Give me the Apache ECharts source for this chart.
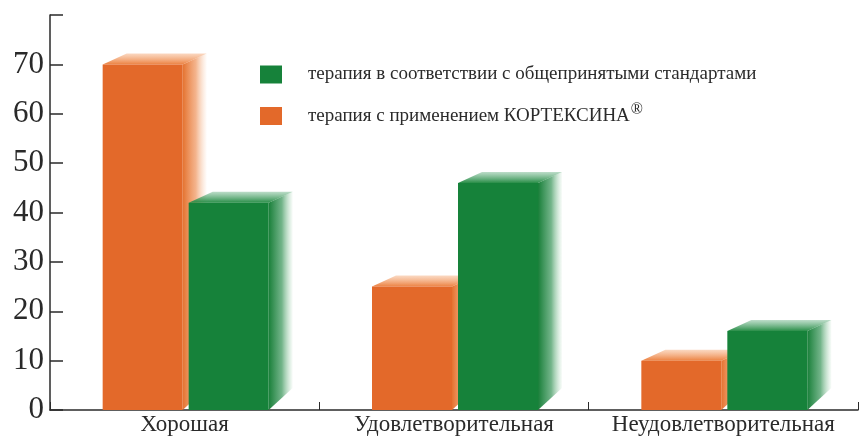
<!DOCTYPE html>
<html>
<head>
<meta charset="utf-8">
<script src="https://cdn.jsdelivr.net/npm/echarts@6/dist/echarts.min.js"></script>
<style>
  html, body { margin: 0; padding: 0; background: #fff; }
  #chart { width: 859px; height: 437px; }
</style>
</head>
<body>
<div id="chart"></div>
<script>
// data
const categories = ['Хорошая', 'Удовлетворительная', 'Неудовлетворительная']
const kortexinValues = [70, 25, 10]
const standardValues = [42, 46, 16]
const kortexinName = 'терапия с применением КОРТЕКСИНА'
const standardName = 'терапия в соответствии с общепринятыми стандартами'

const serif = '"Liberation Serif", "DejaVu Serif", serif'
const BAR_W = 80
const DX = 24
const DY = 11

function makeRender(offset, front, top, side) {
  return function (params, api) {
    const p = api.coord([api.value(0), api.value(1)])
    const base = api.coord([api.value(0), 0])
    const x0 = p[0] + offset
    const x1 = x0 + BAR_W
    const yT = p[1]
    const yB = base[1]
    return {
      type: 'group',
      children: [
        {
          type: 'polygon',
          shape: { points: [[x1, yT], [x1 + DX, yT - DY], [x1 + DX, yB - DY * 2], [x1, yB]] },
          style: {
            fill: new echarts.graphic.LinearGradient(0, 0, 1, 0, [
              { offset: 0, color: side[0] },
              { offset: 0.55, color: side[1] },
              { offset: 1, color: side[2] }
            ])
          }
        },
        {
          type: 'polygon',
          shape: { points: [[x0, yT], [x0 + DX, yT - DY], [x1 + DX, yT - DY], [x1, yT]] },
          style: {
            fill: new echarts.graphic.LinearGradient(0, 0, 0, 1, [
              { offset: 0, color: top[0] },
              { offset: 1, color: top[1] }
            ])
          }
        },
        {
          type: 'rect',
          shape: { x: x0, y: yT, width: BAR_W, height: yB - yT },
          style: { fill: front }
        }
      ]
    }
  }
}

const chart = echarts.init(document.getElementById('chart'))

chart.setOption({
  backgroundColor: '#ffffff',
  animation: false,
  grid: { left: 50, right: 1, top: 15, bottom: 27, containLabel: false },
  legend: {
    orient: 'vertical',
    left: 255,
    top: 60,
    itemWidth: 22,
    itemHeight: 18,
    itemGap: 18,
    icon: 'rect',
    data: [standardName, kortexinName],
    formatter: function (name) {
      if (name === kortexinName) return '{t|' + name + '}{s|®}'
      return '{t|' + name + '}'
    },
    textStyle: {
      rich: {
        t: { fontFamily: serif, fontSize: 19, color: '#2b2b2b', padding: [0, 0, 0, 21] },
        s: { fontFamily: serif, fontSize: 16, color: '#2b2b2b', padding: [0, 0, 12, 1] }
      }
    }
  },
  xAxis: {
    type: 'category',
    data: categories,
    axisLine: { lineStyle: { color: '#2a2a2a', width: 1.5 } },
    axisTick: { show: true, inside: true, length: 8, interval: 0, lineStyle: { color: '#2a2a2a' } },
    axisLabel: { fontFamily: serif, fontSize: 23, color: '#2a2a2a', margin: 3, interval: 0, hideOverlap: false },
    splitLine: { show: false }
  },
  yAxis: {
    type: 'value',
    min: 0,
    max: 80,
    interval: 10,
    axisLine: { show: true, lineStyle: { color: '#2a2a2a', width: 1.5 } },
    axisTick: { show: true, inside: true, length: 13, lineStyle: { color: '#2a2a2a', width: 1.5 } },
    axisLabel: {
      fontFamily: serif, fontSize: 31, color: '#2a2a2a', margin: 6,
      formatter: v => (v === 80 ? '' : String(v))
    },
    splitLine: { show: false }
  },
  series: [
    {
      name: kortexinName,
      type: 'custom',
      itemStyle: { color: '#E3692A' },
      renderItem: makeRender(-82, '#E3692A',
        ['rgba(245,170,120,0.45)', '#EC8242'],
        ['#E4722F', 'rgba(238,140,80,0.65)', 'rgba(245,190,150,0.05)']),
      data: kortexinValues.map((v, i) => [i, v])
    },
    {
      name: standardName,
      type: 'custom',
      itemStyle: { color: '#16823A' },
      renderItem: makeRender(4, '#16823A',
        ['rgba(90,170,120,0.4)', '#2A8E48'],
        ['#197F39', 'rgba(40,140,75,0.65)', 'rgba(120,190,140,0.05)']),
      data: standardValues.map((v, i) => [i, v])
    }
  ]
})
</script>
</body>
</html>
